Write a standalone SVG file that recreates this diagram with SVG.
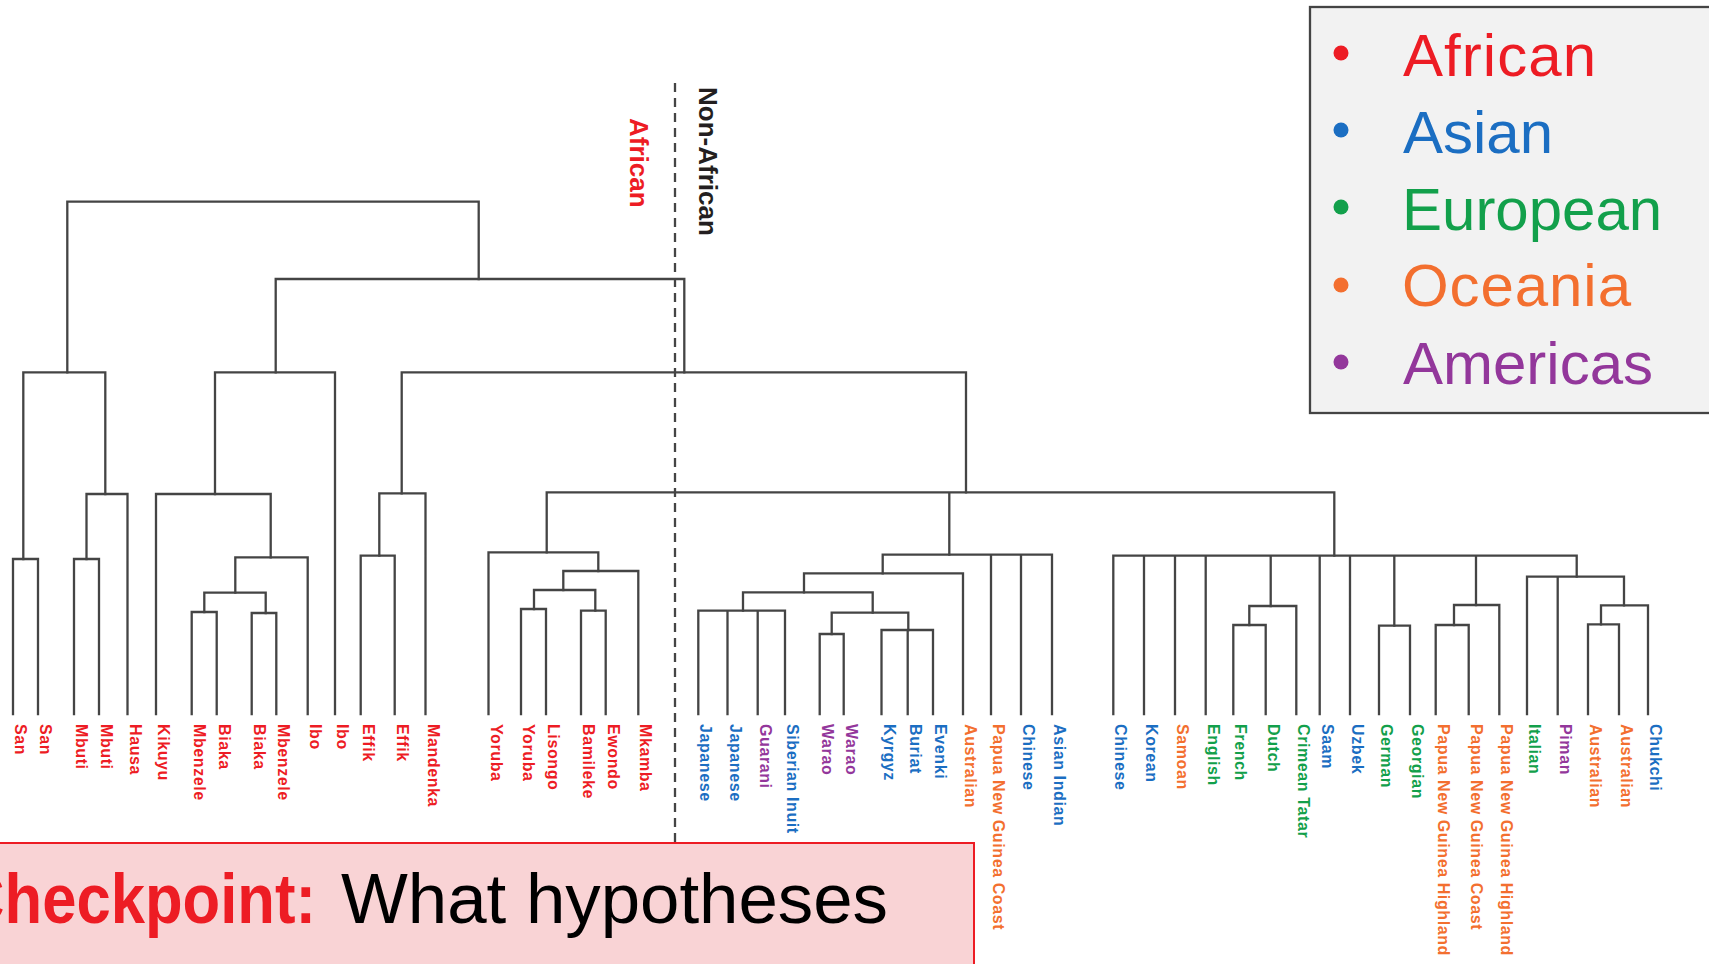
<svg xmlns="http://www.w3.org/2000/svg" width="1709" height="964" viewBox="0 0 1709 964">
<style>
.tree{fill:none;stroke:#444;stroke-width:2.3;stroke-linecap:square;stroke-linejoin:miter}
.lbl{font-family:"Liberation Sans",Arial,sans-serif;font-size:16px;font-weight:bold;letter-spacing:0.6px}
.af{fill:#ED1C24}.as{fill:#1B6EC2}.eu{fill:#12A04B}.oc{fill:#F36F2F}.am{fill:#93379B}
.leg{font-family:"Liberation Sans",Arial,sans-serif;font-size:60px}
</style>
<rect width="1709" height="964" fill="#fff"/>
<g id="legend">
<rect x="1310" y="7" width="420" height="406" fill="#F2F2F2" stroke="#444" stroke-width="2.3"/>
<circle cx="1341" cy="53" r="7.5" fill="#ED1C24"/>
<circle cx="1341" cy="130" r="7.5" fill="#1B6EC2"/>
<circle cx="1341" cy="207" r="7.5" fill="#12A04B"/>
<circle cx="1341" cy="285" r="7.5" fill="#F36F2F"/>
<circle cx="1341" cy="362" r="7.5" fill="#93379B"/>
<text class="leg af" x="1403" y="76" textLength="193" lengthAdjust="spacing">African</text>
<text class="leg as" x="1403" y="153">Asian</text>
<text class="leg eu" x="1402" y="230">European</text>
<text class="leg oc" x="1402" y="306" textLength="229" lengthAdjust="spacing">Oceania</text>
<text class="leg am" x="1403" y="384">Americas</text>
</g>
<g id="divider">
<line x1="675" y1="83" x2="675" y2="842" stroke="#444" stroke-width="2.3" stroke-dasharray="9 6"/>
<text transform="translate(630,118) rotate(90)" font-family="Liberation Sans,Arial,sans-serif" font-size="26" font-weight="bold" fill="#ED1C24">African</text>
<text transform="translate(699,87) rotate(90)" font-family="Liberation Sans,Arial,sans-serif" font-size="26" font-weight="bold" fill="#231F20">Non-African</text>
</g>
<g id="connectors" class="tree">
<path d="M13 714V559H38V714"/>
<path d="M74 714V559H99V714"/>
<path d="M86.5 559V494H127.5V714"/>
<path d="M23.3 559V372.3H105.3V494"/>
<path d="M191.7 714V612H216.7V714"/>
<path d="M251.7 714V613H276.3V714"/>
<path d="M204.3 612V592.7H265.7V613"/>
<path d="M235.3 592.7V557.3H307.7V714"/>
<path d="M156 714V494H270.7V557.3"/>
<path d="M215 494V372.3H335V714"/>
<path d="M360.7 714V555.7H394.7V714"/>
<path d="M379.3 555.7V493.3H425.5V714"/>
<path d="M521 714V609H546V714"/>
<path d="M581 714V610.7H605.7V714"/>
<path d="M534 609V590H595.3V610.7"/>
<path d="M563.3 590V571H638.3V714"/>
<path d="M488.5 714V552.3H598.3V571"/>
<path d="M698.3 714V610.7H785V714M727.5 610.7V714M757.7 610.7V714"/>
<path d="M819.7 714V634H843.7V714"/>
<path d="M881.5 714V630H933V714M907.7 630V714"/>
<path d="M831.7 634V612.7H908.3V630"/>
<path d="M743 610.7V592.3H872.7V612.7"/>
<path d="M804 592.3V573.3H963V714"/>
<path d="M882.7 573.3V554.7H1052V714M991 554.7V714M1021 554.7V714"/>
<path d="M1233.3 714V625H1265.7V714"/>
<path d="M1249.3 625V606H1296.3V714"/>
<path d="M1379 714V625.7H1410V714"/>
<path d="M1435.7 714V625H1468.7V714"/>
<path d="M1454 625V605H1499.3V714"/>
<path d="M1588 714V624.3H1619V714"/>
<path d="M1601 624.3V605.3H1648V714"/>
<path d="M1527 714V576.7H1624V605.3M1557.7 576.7V714"/>
<path d="M1113.3 714V555.7H1576.7V576.7M1144 555.7V714M1175 555.7V714M1205.7 555.7V714M1270.7 555.7V606M1319.7 555.7V714M1350 555.7V714M1394.3 555.7V625.7M1476 555.7V605"/>
<path d="M546.7 552.3V492.3H1334.3V555.7M949.3 492.3V554.7"/>
<path d="M401.7 493.3V372.3H966V492.3"/>
<path d="M275.7 372.3V279H684.3V372.3"/>
<path d="M67.3 372.3V201.7H478.7V279"/>
</g>
<g id="leaf-san-1"><text class="lbl af" transform="translate(15,724) rotate(90)">San</text></g>
<g id="leaf-san-2"><text class="lbl af" transform="translate(40,724) rotate(90)">San</text></g>
<g id="leaf-mbuti-1"><text class="lbl af" transform="translate(76,724) rotate(90)">Mbuti</text></g>
<g id="leaf-mbuti-2"><text class="lbl af" transform="translate(101,724) rotate(90)">Mbuti</text></g>
<g id="leaf-hausa"><text class="lbl af" transform="translate(129.5,724) rotate(90)">Hausa</text></g>
<g id="leaf-kikuyu"><text class="lbl af" transform="translate(158,724) rotate(90)">Kikuyu</text></g>
<g id="leaf-mbenzele-1"><text class="lbl af" transform="translate(193.7,724) rotate(90)">Mbenzele</text></g>
<g id="leaf-biaka-1"><text class="lbl af" transform="translate(218.7,724) rotate(90)">Biaka</text></g>
<g id="leaf-biaka-2"><text class="lbl af" transform="translate(253.7,724) rotate(90)">Biaka</text></g>
<g id="leaf-mbenzele-2"><text class="lbl af" transform="translate(278.3,724) rotate(90)">Mbenzele</text></g>
<g id="leaf-ibo-1"><text class="lbl af" transform="translate(309.7,724) rotate(90)">Ibo</text></g>
<g id="leaf-ibo-2"><text class="lbl af" transform="translate(337,724) rotate(90)">Ibo</text></g>
<g id="leaf-effik-1"><text class="lbl af" transform="translate(362.7,724) rotate(90)">Effik</text></g>
<g id="leaf-effik-2"><text class="lbl af" transform="translate(396.7,724) rotate(90)">Effik</text></g>
<g id="leaf-mandenka"><text class="lbl af" transform="translate(427.5,724) rotate(90)">Mandenka</text></g>
<g id="leaf-yoruba-1"><text class="lbl af" transform="translate(490.5,724) rotate(90)">Yoruba</text></g>
<g id="leaf-yoruba-2"><text class="lbl af" transform="translate(523,724) rotate(90)">Yoruba</text></g>
<g id="leaf-lisongo"><text class="lbl af" transform="translate(548,724) rotate(90)">Lisongo</text></g>
<g id="leaf-bamileke"><text class="lbl af" transform="translate(583,724) rotate(90)">Bamileke</text></g>
<g id="leaf-ewondo"><text class="lbl af" transform="translate(607.7,724) rotate(90)">Ewondo</text></g>
<g id="leaf-mkamba"><text class="lbl af" transform="translate(640.3,724) rotate(90)">Mkamba</text></g>
<g id="leaf-japanese-1"><text class="lbl as" transform="translate(700.3,724) rotate(90)">Japanese</text></g>
<g id="leaf-japanese-2"><text class="lbl as" transform="translate(729.5,724) rotate(90)">Japanese</text></g>
<g id="leaf-guarani"><text class="lbl am" transform="translate(759.7,724) rotate(90)">Guarani</text></g>
<g id="leaf-siberian-inuit"><text class="lbl as" transform="translate(787,724) rotate(90)">Siberian Inuit</text></g>
<g id="leaf-warao-1"><text class="lbl am" transform="translate(821.7,724) rotate(90)">Warao</text></g>
<g id="leaf-warao-2"><text class="lbl am" transform="translate(845.7,724) rotate(90)">Warao</text></g>
<g id="leaf-kyrgyz"><text class="lbl as" transform="translate(883.5,724) rotate(90)">Kyrgyz</text></g>
<g id="leaf-buriat"><text class="lbl as" transform="translate(909.7,724) rotate(90)">Buriat</text></g>
<g id="leaf-evenki"><text class="lbl as" transform="translate(935,724) rotate(90)">Evenki</text></g>
<g id="leaf-australian-1"><text class="lbl oc" transform="translate(965,724) rotate(90)">Australian</text></g>
<g id="leaf-png-coast-1"><text class="lbl oc" transform="translate(993,724) rotate(90)">Papua New Guinea Coast</text></g>
<g id="leaf-chinese-1"><text class="lbl as" transform="translate(1023,724) rotate(90)">Chinese</text></g>
<g id="leaf-asian-indian"><text class="lbl as" transform="translate(1054,724) rotate(90)">Asian Indian</text></g>
<g id="leaf-chinese-2"><text class="lbl as" transform="translate(1115.3,724) rotate(90)">Chinese</text></g>
<g id="leaf-korean"><text class="lbl as" transform="translate(1146,724) rotate(90)">Korean</text></g>
<g id="leaf-samoan"><text class="lbl oc" transform="translate(1177,724) rotate(90)">Samoan</text></g>
<g id="leaf-english"><text class="lbl eu" transform="translate(1207.7,724) rotate(90)">English</text></g>
<g id="leaf-french"><text class="lbl eu" transform="translate(1235.3,724) rotate(90)">French</text></g>
<g id="leaf-dutch"><text class="lbl eu" transform="translate(1267.7,724) rotate(90)">Dutch</text></g>
<g id="leaf-crimean-tatar"><text class="lbl eu" transform="translate(1298.3,724) rotate(90)">Crimean Tatar</text></g>
<g id="leaf-saam"><text class="lbl as" transform="translate(1321.7,724) rotate(90)">Saam</text></g>
<g id="leaf-uzbek"><text class="lbl as" transform="translate(1352,724) rotate(90)">Uzbek</text></g>
<g id="leaf-german"><text class="lbl eu" transform="translate(1381,724) rotate(90)">German</text></g>
<g id="leaf-georgian"><text class="lbl eu" transform="translate(1412,724) rotate(90)">Georgian</text></g>
<g id="leaf-png-highland-1"><text class="lbl oc" transform="translate(1437.7,724) rotate(90)">Papua New Guinea Highland</text></g>
<g id="leaf-png-coast-2"><text class="lbl oc" transform="translate(1470.7,724) rotate(90)">Papua New Guinea Coast</text></g>
<g id="leaf-png-highland-2"><text class="lbl oc" transform="translate(1501.3,724) rotate(90)">Papua New Guinea Highland</text></g>
<g id="leaf-italian"><text class="lbl eu" transform="translate(1529,724) rotate(90)">Italian</text></g>
<g id="leaf-piman"><text class="lbl am" transform="translate(1559.7,724) rotate(90)">Piman</text></g>
<g id="leaf-australian-2"><text class="lbl oc" transform="translate(1590,724) rotate(90)">Australian</text></g>
<g id="leaf-australian-3"><text class="lbl oc" transform="translate(1621,724) rotate(90)">Australian</text></g>
<g id="leaf-chukchi"><text class="lbl as" transform="translate(1650,724) rotate(90)">Chukchi</text></g>
<g id="checkpoint">
<rect x="-5" y="843" width="979" height="130" fill="#F9D3D5" stroke="#ED1C24" stroke-width="2"/>
<text x="-40" y="923" font-family="Liberation Sans,Arial,sans-serif" font-size="70" font-weight="bold" fill="#ED1C24" textLength="356" lengthAdjust="spacingAndGlyphs">Checkpoint:</text>
<text x="341" y="923" font-family="Liberation Sans,Arial,sans-serif" font-size="70" fill="#000" textLength="547" lengthAdjust="spacingAndGlyphs">What hypotheses</text>
</g>
</svg>
